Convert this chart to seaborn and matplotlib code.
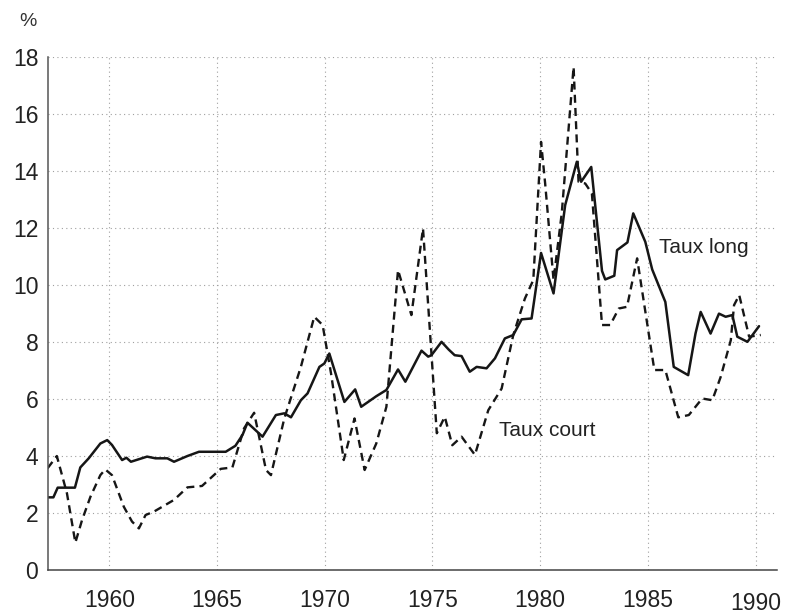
import matplotlib
matplotlib.use("Agg")
import matplotlib.pyplot as plt
import matplotlib.transforms as mtransforms
import numpy as np
import pandas as pd
import seaborn as sns

# taux long (solid line)
long_years = [1957.13, 1957.4, 1957.6, 1958.4, 1958.65, 1959.04, 1959.58, 1959.9, 1960.12, 1960.59,
              1960.79, 1961.0, 1961.75, 1962.14, 1962.69, 1963.0, 1963.62, 1964.16, 1965.4, 1965.85,
              1966.18, 1966.41, 1967.11, 1967.73, 1968.12, 1968.43, 1968.89, 1969.2, 1969.75, 1969.98,
              1970.21, 1970.91, 1971.41, 1971.69, 1972.39, 1972.86, 1973.4, 1973.74, 1974.49, 1974.8,
              1974.95, 1975.42, 1975.75, 1976.03, 1976.35, 1976.73, 1977.05, 1977.51, 1977.9, 1978.36,
              1978.75, 1979.14, 1979.6, 1980.04, 1980.62, 1981.16, 1981.7, 1981.9, 1982.37, 1982.87,
              1983.02, 1983.44, 1983.57, 1984.05, 1984.32, 1984.88, 1985.2, 1985.81, 1986.2, 1986.87,
              1987.21, 1987.45, 1987.91, 1988.3, 1988.61, 1988.92, 1989.15, 1989.62, 1990.16]
long_vals = [2.55, 2.55, 2.89, 2.89, 3.6, 3.92, 4.44, 4.56, 4.39, 3.86,
             3.94, 3.8, 3.98, 3.92, 3.92, 3.8, 4.0, 4.15, 4.15, 4.36,
             4.74, 5.17, 4.68, 5.44, 5.5, 5.36, 5.96, 6.2, 7.13, 7.25,
             7.6, 5.9, 6.34, 5.73, 6.1, 6.32, 7.04, 6.61, 7.7, 7.49,
             7.54, 8.01, 7.74, 7.54, 7.51, 6.96, 7.13, 7.08, 7.43, 8.13,
             8.25, 8.8, 8.83, 11.13, 9.71, 12.81, 14.33, 13.63, 14.15, 10.5,
             10.2, 10.33, 11.23, 11.5, 12.52, 11.52, 10.55, 9.41, 7.13, 6.84,
             8.3, 9.06, 8.3, 9.0, 8.89, 8.95, 8.19, 8.01, 8.56]

# taux court (dashed line)
court_years = [1957.13, 1957.56, 1958.03, 1958.42, 1958.73, 1959.12, 1959.58, 1959.81, 1960.12, 1960.67,
               1961.05, 1961.37, 1961.68, 1962.07, 1963.0, 1963.62, 1964.3, 1965.17, 1965.71, 1966.25,
               1966.72, 1967.27, 1967.5, 1968.12, 1968.89, 1969.51, 1969.9, 1970.29, 1970.88, 1971.38,
               1971.85, 1972.39, 1972.86, 1973.4, 1974.02, 1974.56, 1975.2, 1975.57, 1975.92, 1976.35,
               1976.97, 1977.59, 1978.21, 1978.75, 1979.29, 1979.68, 1980.04, 1980.23, 1980.62, 1981.0,
               1981.55, 1981.78, 1982.09, 1982.4, 1982.87, 1983.25, 1983.65, 1984.03, 1984.5, 1985.3,
               1985.81, 1986.41, 1986.9, 1987.52, 1987.99, 1988.38, 1988.85, 1989.0, 1989.24, 1989.7,
               1990.24]
court_vals = [3.57, 4.0, 2.69, 0.96, 1.75, 2.57, 3.33, 3.53, 3.33, 2.22,
              1.7, 1.46, 1.93, 2.05, 2.46, 2.9, 2.95, 3.55, 3.6, 4.97,
              5.52, 3.51, 3.33, 5.32, 7.13, 8.89, 8.6, 6.9, 3.86, 5.32,
              3.51, 4.44, 5.73, 10.53, 8.95, 11.99, 4.8, 5.38, 4.38, 4.68,
              4.04, 5.61, 6.37, 8.25, 9.53, 10.18, 15.03, 13.57, 10.18, 12.52,
              17.66, 13.63, 13.57, 13.22, 8.6, 8.6, 9.18, 9.24, 10.94, 7.02,
              7.02, 5.36, 5.44, 6.02, 5.96, 6.78, 8.07, 9.3, 9.65, 8.19,
              8.25]

x_ticks = [1960, 1965, 1970, 1975, 1980, 1985, 1990]
y_ticks = [0, 2, 4, 6, 8, 10, 12, 14, 16, 18]

df_long = pd.DataFrame({"annee": long_years, "taux": long_vals})
df_court = pd.DataFrame({"annee": court_years, "taux": court_vals})

sns.set_theme(style="white")
plt.rcParams["font.family"] = ["Liberation Sans", "DejaVu Sans"]

fig = plt.figure(figsize=(7.96, 6.14), dpi=100)
ax = fig.add_axes([0.0603, 0.0717, 0.916, 0.835])

line_col = "#161616"
sns.lineplot(data=df_long, x="annee", y="taux", ax=ax, color=line_col,
             linewidth=1.8, estimator=None, sort=False)
sns.lineplot(data=df_court, x="annee", y="taux", ax=ax, color=line_col,
             linewidth=1.7, estimator=None, sort=False, dashes=False,
             linestyle=(0, (3.4, 2.2)))

ax.set_xlim(1957.15, 1991.0)
ax.set_ylim(0, 18)
ax.set_xticks(x_ticks)
ax.set_yticks(y_ticks)
ax.set_xlabel("")
ax.set_ylabel("")

ax.grid(True, color="#a0a0a0", linestyle=(0, (1, 3)), linewidth=0.8)
ax.set_axisbelow(True)
for s in ["top", "right"]:
    ax.spines[s].set_visible(False)
ax.spines["left"].set_color("#555555")
ax.spines["bottom"].set_color("#444444")
ax.spines["left"].set_linewidth(1.1)
ax.spines["bottom"].set_linewidth(1.1)

ax.tick_params(axis="both", length=0, labelsize=16.5, colors="#222222")
ax.tick_params(axis="x", pad=14)
ax.tick_params(axis="y", pad=7)

# the last year label sits a bit lower in the original
last = ax.get_xticklabels()[-1]
last.set_transform(last.get_transform() + mtransforms.ScaledTranslation(0, -2 / 72, fig.dpi_scale_trans))

ax.text(1985.5, 11.33, "Taux long", fontsize=15, color="#222222", va="center", ha="left")
ax.text(1978.1, 4.88, "Taux court", fontsize=15, color="#222222", va="center", ha="left")
fig.text(28 / 796, 1 - 22 / 614, "%", fontsize=14, color="#333333", ha="center", va="center")

fig.savefig("out.png", dpi=100)
